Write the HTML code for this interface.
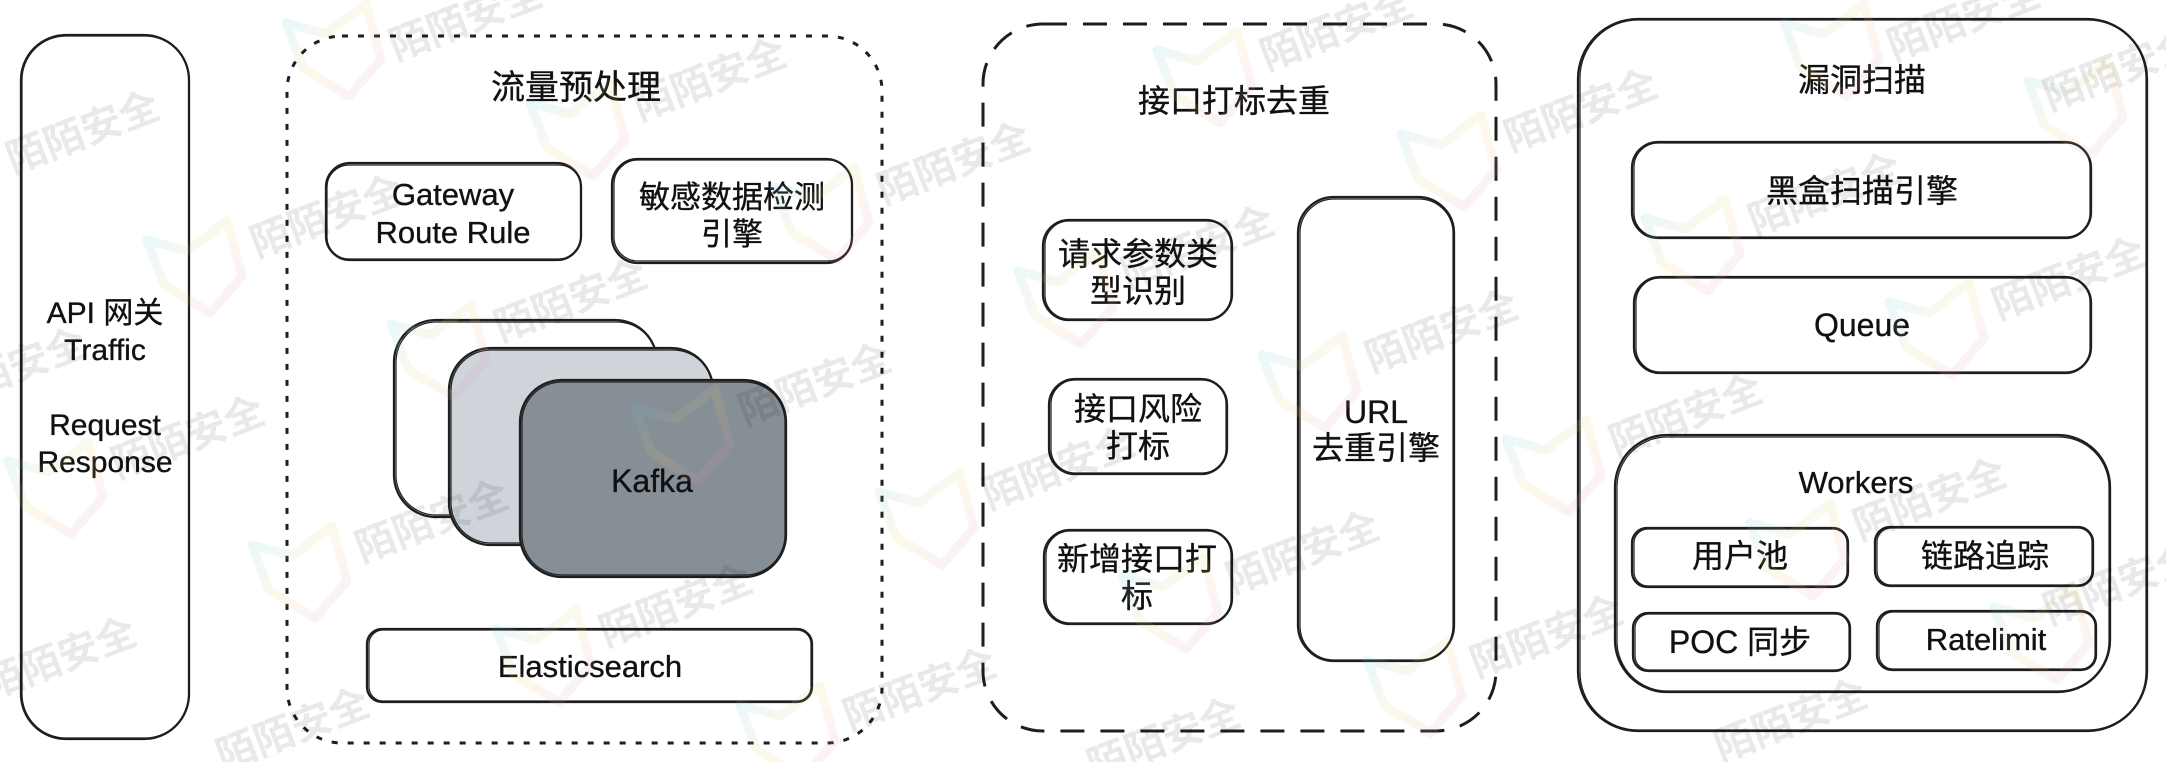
<!DOCTYPE html>
<html>
<head>
<meta charset="utf-8">
<style>
html,body{margin:0;padding:0;background:#ffffff;width:2166px;height:762px;overflow:hidden}
svg{display:block;overflow:hidden}
.t{font-family:"Liberation Sans","Noto Sans CJK SC",sans-serif;fill:#111;stroke:#111;stroke-width:0.35;text-anchor:middle}
.wm{font-family:"Liberation Sans","Noto Sans CJK SC",sans-serif;font-weight:bold;font-size:40px;fill:#000;fill-opacity:0.085;text-anchor:middle;dominant-baseline:central}
.s1{fill:none;stroke:#1e1e1e;stroke-width:2.3}
.s2{fill:none;stroke:#1e1e1e;stroke-width:1.2}
.lg{fill:none;stroke:url(#lgGrad);stroke-width:9;stroke-linejoin:round;opacity:0.13}
</style>
</head>
<body>
<svg width="2166" height="762" viewBox="0 0 2166 762">
<defs>
<linearGradient id="lgGrad" gradientUnits="userSpaceOnUse" x1="-45" y1="-40" x2="45" y2="45">
<stop offset="0" stop-color="#4cc3f5"/>
<stop offset="0.5" stop-color="#f2d25a"/>
<stop offset="1" stop-color="#d77be0"/>
</linearGradient>
<clipPath id="clipAll"><rect x="0" y="0" width="2166" height="762"/></clipPath>
</defs>
<rect x="0" y="0" width="2166" height="762" fill="#ffffff"/>

<!-- API box -->
<rect class="s1" x="21" y="35" width="168" height="704" rx="45"/>
<rect class="s2" x="22" y="36" width="167" height="702" rx="44"/>
<text class="t" font-size="30" x="105" y="323">API 网关</text>
<text class="t" font-size="30" x="105" y="360">Traffic</text>
<text class="t" font-size="30" x="105" y="435">Request</text>
<text class="t" font-size="30" x="105" y="472">Response</text>

<!-- Preprocessing dotted box -->
<rect x="287" y="36" width="595" height="707" rx="55" fill="none" stroke="#1e1e1e" stroke-width="3" stroke-dasharray="6 10"/>
<text class="t" font-size="34" x="576" y="99">流量预处理</text>

<rect class="s1" x="326" y="163" width="255" height="97" rx="24"/>
<rect class="s2" x="327" y="165" width="254" height="94" rx="22"/>
<text class="t" font-size="31" x="453" y="205">Gateway</text>
<text class="t" font-size="31" x="453" y="243">Route Rule</text>

<rect class="s1" x="612" y="159" width="240" height="104" rx="26"/>
<rect class="s2" x="614" y="160" width="238" height="101" rx="24"/>
<text class="t" font-size="31" x="732" y="208">敏感数据检测</text>
<text class="t" font-size="31" x="732" y="245">引擎</text>

<!-- Kafka stack -->
<rect x="394" y="320" width="263" height="197" rx="42" fill="#ffffff" stroke="#1e1e1e" stroke-width="2.3"/>
<rect class="s2" x="396" y="322" width="261" height="193" rx="40"/>
<rect x="449" y="348" width="264" height="197" rx="42" fill="#ced4da" stroke="#1e1e1e" stroke-width="2.3"/>
<rect class="s2" x="451" y="350" width="262" height="193" rx="40"/>
<rect x="520" y="380" width="266" height="197" rx="42" fill="#868e96" stroke="#1e1e1e" stroke-width="2.3"/>
<rect class="s2" x="522" y="382" width="263" height="193" rx="40"/>
<text class="t" font-size="32" x="652" y="492">Kafka</text>

<rect class="s1" x="367" y="629" width="445" height="73" rx="15"/>
<rect class="s2" x="369" y="630" width="442" height="71" rx="14"/>
<text class="t" font-size="31" x="590" y="677">Elasticsearch</text>

<!-- Middle dashed box -->
<rect x="983" y="24" width="513" height="707" rx="60" fill="none" stroke="#1e1e1e" stroke-width="3" stroke-dasharray="24 16"/>
<text class="t" font-size="32" x="1234" y="112">接口打标去重</text>

<rect class="s1" x="1043" y="220" width="189" height="100" rx="26"/>
<rect class="s2" x="1045" y="221" width="186" height="98" rx="24"/>
<text class="t" font-size="32" x="1138" y="265">请求参数类</text>
<text class="t" font-size="32" x="1138" y="302">型识别</text>

<rect class="s1" x="1049" y="379" width="178" height="95" rx="26"/>
<rect class="s2" x="1051" y="380" width="175" height="93" rx="24"/>
<text class="t" font-size="32" x="1138" y="420">接口风险</text>
<text class="t" font-size="32" x="1138" y="457">打标</text>

<rect class="s1" x="1044" y="530" width="188" height="94" rx="26"/>
<rect class="s2" x="1046" y="531" width="185" height="92" rx="24"/>
<text class="t" font-size="32" x="1137" y="570">新增接口打</text>
<text class="t" font-size="32" x="1137" y="607">标</text>

<rect class="s1" x="1298" y="197" width="156" height="464" rx="36"/>
<rect class="s2" x="1300" y="199" width="153" height="461" rx="34"/>
<text class="t" font-size="32" x="1376" y="423">URL</text>
<text class="t" font-size="32" x="1376" y="459">去重引擎</text>

<!-- Right scanner box -->
<rect class="s1" x="1578" y="19" width="569" height="712" rx="60"/>
<rect class="s2" x="1580" y="20" width="566" height="710" rx="58"/>
<text class="t" font-size="32" x="1862" y="91">漏洞扫描</text>

<rect class="s1" x="1632" y="142" width="459" height="96" rx="26"/>
<rect class="s2" x="1634" y="143" width="456" height="94" rx="24"/>
<text class="t" font-size="32" x="1862" y="202">黑盒扫描引擎</text>

<rect class="s1" x="1634" y="277" width="457" height="96" rx="26"/>
<rect class="s2" x="1636" y="278" width="454" height="94" rx="24"/>
<text class="t" font-size="32" x="1862" y="336">Queue</text>

<rect class="s1" x="1615" y="435" width="495" height="257" rx="52"/>
<rect class="s2" x="1617" y="437" width="492" height="254" rx="50"/>
<text class="t" font-size="31" x="1856" y="493">Workers</text>

<rect class="s1" x="1632" y="528" width="216" height="59" rx="15"/>
<rect class="s2" x="1634" y="529" width="213" height="57" rx="14"/>
<text class="t" font-size="32" x="1740" y="567">用户池</text>

<rect class="s1" x="1875" y="527" width="218" height="59" rx="15"/>
<rect class="s2" x="1877" y="528" width="215" height="57" rx="14"/>
<text class="t" font-size="32" x="1985" y="567">链路追踪</text>

<rect class="s1" x="1633" y="613" width="217" height="58" rx="15"/>
<rect class="s2" x="1635" y="614" width="214" height="56" rx="14"/>
<text class="t" font-size="32" x="1740" y="653">POC 同步</text>

<rect class="s1" x="1877" y="611" width="219" height="59" rx="15"/>
<rect class="s2" x="1879" y="612" width="216" height="57" rx="14"/>
<text class="t" font-size="31" x="1986" y="650">Ratelimit</text>

<g clip-path="url(#clipAll)">
<!-- Watermark logos -->
<path class="lg" transform="translate(195,265)" d="M -8,-14 L -48,-25 L -31,20 L 15,48 L 47,11 L 32,-44 Z"/>
<path class="lg" transform="translate(439,349)" d="M -8,-14 L -48,-25 L -31,20 L 15,48 L 47,11 L 32,-44 Z"/>
<path class="lg" transform="translate(683,433)" d="M -8,-14 L -48,-25 L -31,20 L 15,48 L 47,11 L 32,-44 Z"/>
<path class="lg" transform="translate(927,517)" d="M -8,-14 L -48,-25 L -31,20 L 15,48 L 47,11 L 32,-44 Z"/>
<path class="lg" transform="translate(1171,601)" d="M -8,-14 L -48,-25 L -31,20 L 15,48 L 47,11 L 32,-44 Z"/>
<path class="lg" transform="translate(1415,685)" d="M -8,-14 L -48,-25 L -31,20 L 15,48 L 47,11 L 32,-44 Z"/>
<path class="lg" transform="translate(56,486)" d="M -8,-14 L -48,-25 L -31,20 L 15,48 L 47,11 L 32,-44 Z"/>
<path class="lg" transform="translate(300,570)" d="M -8,-14 L -48,-25 L -31,20 L 15,48 L 47,11 L 32,-44 Z"/>
<path class="lg" transform="translate(544,654)" d="M -8,-14 L -48,-25 L -31,20 L 15,48 L 47,11 L 32,-44 Z"/>
<path class="lg" transform="translate(788,730)" d="M -8,-14 L -48,-25 L -31,20 L 15,48 L 47,11 L 32,-44 Z"/>
<path class="lg" transform="translate(334,48)" d="M -8,-14 L -48,-25 L -31,20 L 15,48 L 47,11 L 32,-44 Z"/>
<path class="lg" transform="translate(578,128)" d="M -8,-14 L -48,-25 L -31,20 L 15,48 L 47,11 L 32,-44 Z"/>
<path class="lg" transform="translate(822,212)" d="M -8,-14 L -48,-25 L -31,20 L 15,48 L 47,11 L 32,-44 Z"/>
<path class="lg" transform="translate(1066,296)" d="M -8,-14 L -48,-25 L -31,20 L 15,48 L 47,11 L 32,-44 Z"/>
<path class="lg" transform="translate(1310,380)" d="M -8,-14 L -48,-25 L -31,20 L 15,48 L 47,11 L 32,-44 Z"/>
<path class="lg" transform="translate(1554,464)" d="M -8,-14 L -48,-25 L -31,20 L 15,48 L 47,11 L 32,-44 Z"/>
<path class="lg" transform="translate(1798,548)" d="M -8,-14 L -48,-25 L -31,20 L 15,48 L 47,11 L 32,-44 Z"/>
<path class="lg" transform="translate(2042,632)" d="M -8,-14 L -48,-25 L -31,20 L 15,48 L 47,11 L 32,-44 Z"/>
<path class="lg" transform="translate(1205,75)" d="M -8,-14 L -48,-25 L -31,20 L 15,48 L 47,11 L 32,-44 Z"/>
<path class="lg" transform="translate(1449,159)" d="M -8,-14 L -48,-25 L -31,20 L 15,48 L 47,11 L 32,-44 Z"/>
<path class="lg" transform="translate(1693,243)" d="M -8,-14 L -48,-25 L -31,20 L 15,48 L 47,11 L 32,-44 Z"/>
<path class="lg" transform="translate(1937,327)" d="M -8,-14 L -48,-25 L -31,20 L 15,48 L 47,11 L 32,-44 Z"/>
<path class="lg" transform="translate(1832,48)" d="M -8,-14 L -48,-25 L -31,20 L 15,48 L 47,11 L 32,-44 Z"/>
<path class="lg" transform="translate(2076,106)" d="M -8,-14 L -48,-25 L -31,20 L 15,48 L 47,11 L 32,-44 Z"/>

<!-- Watermark texts -->
<text class="wm" x="83" y="133" transform="rotate(-21 83 133)">陌陌安全</text>
<text class="wm" x="327" y="217" transform="rotate(-21 327 217)">陌陌安全</text>
<text class="wm" x="571" y="301" transform="rotate(-21 571 301)">陌陌安全</text>
<text class="wm" x="815" y="385" transform="rotate(-21 815 385)">陌陌安全</text>
<text class="wm" x="1059" y="469" transform="rotate(-21 1059 469)">陌陌安全</text>
<text class="wm" x="1303" y="553" transform="rotate(-21 1303 553)">陌陌安全</text>
<text class="wm" x="1547" y="637" transform="rotate(-21 1547 637)">陌陌安全</text>
<text class="wm" x="1791" y="721" transform="rotate(-21 1791 721)">陌陌安全</text>
<text class="wm" x="10" y="370" transform="rotate(-21 10 370)">陌陌安全</text>
<text class="wm" x="188" y="438" transform="rotate(-21 188 438)">陌陌安全</text>
<text class="wm" x="432" y="522" transform="rotate(-21 432 522)">陌陌安全</text>
<text class="wm" x="676" y="606" transform="rotate(-21 676 606)">陌陌安全</text>
<text class="wm" x="920" y="690" transform="rotate(-21 920 690)">陌陌安全</text>
<text class="wm" x="1164" y="740" transform="rotate(-21 1164 740)">陌陌安全</text>
<text class="wm" x="60" y="659" transform="rotate(-21 60 659)">陌陌安全</text>
<text class="wm" x="293" y="730" transform="rotate(-21 293 730)">陌陌安全</text>
<text class="wm" x="466" y="20" transform="rotate(-21 466 20)">陌陌安全</text>
<text class="wm" x="710" y="80" transform="rotate(-21 710 80)">陌陌安全</text>
<text class="wm" x="954" y="164" transform="rotate(-21 954 164)">陌陌安全</text>
<text class="wm" x="1198" y="248" transform="rotate(-21 1198 248)">陌陌安全</text>
<text class="wm" x="1442" y="332" transform="rotate(-21 1442 332)">陌陌安全</text>
<text class="wm" x="1686" y="416" transform="rotate(-21 1686 416)">陌陌安全</text>
<text class="wm" x="1930" y="500" transform="rotate(-21 1930 500)">陌陌安全</text>
<text class="wm" x="2120" y="584" transform="rotate(-21 2120 584)">陌陌安全</text>
<text class="wm" x="1337" y="30" transform="rotate(-21 1337 30)">陌陌安全</text>
<text class="wm" x="1581" y="111" transform="rotate(-21 1581 111)">陌陌安全</text>
<text class="wm" x="1825" y="195" transform="rotate(-21 1825 195)">陌陌安全</text>
<text class="wm" x="2069" y="279" transform="rotate(-21 2069 279)">陌陌安全</text>
<text class="wm" x="1964" y="20" transform="rotate(-21 1964 20)">陌陌安全</text>
<text class="wm" x="2120" y="70" transform="rotate(-21 2120 70)">陌陌安全</text>
</g>
</svg>
</body>
</html>
